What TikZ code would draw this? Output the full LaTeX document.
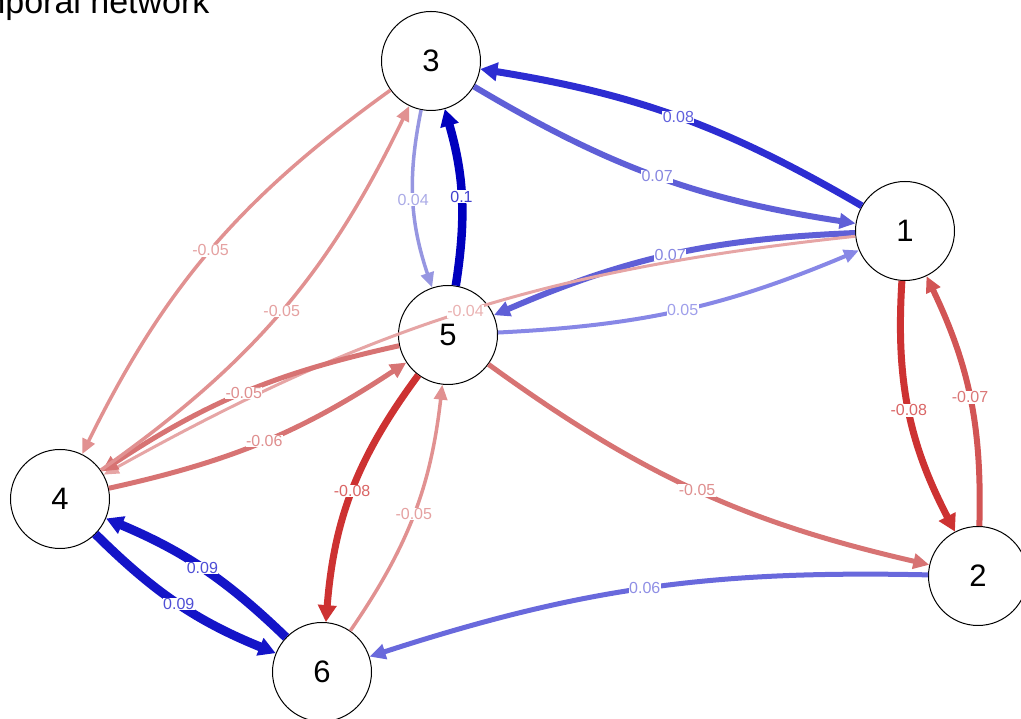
\documentclass[tikz,border=0pt]{standalone}
\usepackage{fontspec}
\setmainfont{Liberation Sans}
\usetikzlibrary{arrows.meta}
\definecolor{c10}{RGB}{0,0,190}
\definecolor{c09}{RGB}{20,20,200}
\definecolor{c08}{RGB}{45,45,210}
\definecolor{c07}{RGB}{95,95,215}
\definecolor{c06}{RGB}{105,105,220}
\definecolor{c05}{RGB}{135,135,230}
\definecolor{c04}{RGB}{150,150,225}
\definecolor{r08}{RGB}{205,50,50}
\definecolor{r07}{RGB}{210,85,85}
\definecolor{r06}{RGB}{215,115,115}
\definecolor{r05s}{RGB}{215,115,115}
\definecolor{r05l}{RGB}{225,145,145}
\definecolor{r04}{RGB}{230,165,165}
\tikzset{
  vtx/.style={circle, draw=black, line width=1pt, fill=white, minimum size=99pt, inner sep=0pt, font=\fontsize{31}{31}\selectfont},
  bigtip/.style={-{Triangle[length=17pt,width=18pt]}},
  midtip/.style={-{Triangle[length=16pt,width=15pt]}},
  smalltip/.style={-{Triangle[length=15pt,width=13pt]}},
  lb/.style={midway, fill=white, inner sep=0.5pt, font=\fontsize{16}{16}\selectfont},
}
\begin{document}
\begin{tikzpicture}[x=1pt,y=1pt]
\useasboundingbox (0,0) rectangle (1021,719);
\node[anchor=base east, font=\fontsize{34}{34}\selectfont] (title) at (213,705) {Temporal network};
\node[vtx] (n3) at (431,658) {3};
\node[vtx] (n1) at (905,488) {1};
\node[vtx] (n5) at (448,384) {5};
\node[vtx] (n4) at (60,220) {4};
\node[vtx] (n2) at (978,143) {2};
\node[vtx] (n6) at (322,47) {6};
% blue edges
\draw[bigtip, draw=c08, line width=7pt] (n1) to[bend right=10.5] node[lb, text=c08!75!white] {0.08} (n3);
\draw[midtip, draw=c07, line width=6pt] (n3) to[bend right=11] node[lb, text=c07!75!white] {0.07} (n1);
\draw[bigtip, draw=c10, line width=8.5pt] (n5) to[bend right=12.5] node[lb, text=c10!75!white] {0.1} (n3);
\draw[smalltip, draw=c04, line width=3.5pt] (n3) to[bend right=15] node[lb, text=c04!80!white] {0.04} (n5);
\draw[midtip, draw=c07, line width=6pt] (n1) to[bend right=10.5] node[lb, text=c07!75!white] {0.07} (n5);
\draw[smalltip, draw=c05, line width=4pt] (n5) to[bend right=10] node[lb, text=c05!80!white] {0.05} (n1);
\draw[bigtip, draw=c09, line width=9pt] (n4) to[bend right=11.3] node[lb, text=c09!75!white] {0.09} (n6);
\draw[bigtip, draw=c09, line width=9pt] (n6) to[bend right=10.5] node[lb, text=c09!75!white] {0.09} (n4);
\draw[midtip, draw=c06, line width=5pt] (n2) to[bend right=9.6] node[lb, text=c06!75!white] {0.06} (n6);
% red edges
\draw[smalltip, draw=r04, line width=3pt] (n1) to[bend right=11.5] node[lb, text=r04!85!white] {-0.04} (n4);
\draw[midtip, draw=r05s, line width=5pt] (n5) to[bend right=10.5] node[lb, text=r05s!80!white] {-0.05} (n4);
\draw[midtip, draw=r06, line width=5pt] (n4) to[bend right=10.5] node[lb, text=r06!80!white] {-0.06} (n5);
\draw[smalltip, draw=r05l, line width=3.5pt] (n3) to[bend right=14] node[lb, text=r05l!85!white] {-0.05} (n4);
\draw[smalltip, draw=r05l, line width=3.5pt] (n4) to[bend right=14.5] node[lb, text=r05l!85!white] {-0.05} (n3);
\draw[bigtip, draw=r08, line width=7pt] (n5) to[bend right=16] node[lb, text=r08!75!white] {-0.08} (n6);
\draw[smalltip, draw=r05l, line width=3.5pt] (n6) to[bend right=14] node[lb, text=r05l!85!white] {-0.05} (n5);
\draw[midtip, draw=r05s, line width=5pt] (n5) to[bend right=11.5] node[lb, text=r05s!80!white] {-0.05} (n2);
\draw[bigtip, draw=r08, line width=7pt] (n1) to[bend right=15.5] node[lb, text=r08!75!white] {-0.08} (n2);
\draw[midtip, draw=r07, line width=6pt] (n2) to[bend right=13.5] node[lb, text=r07!80!white] {-0.07} (n1);
\end{tikzpicture}
\end{document}
